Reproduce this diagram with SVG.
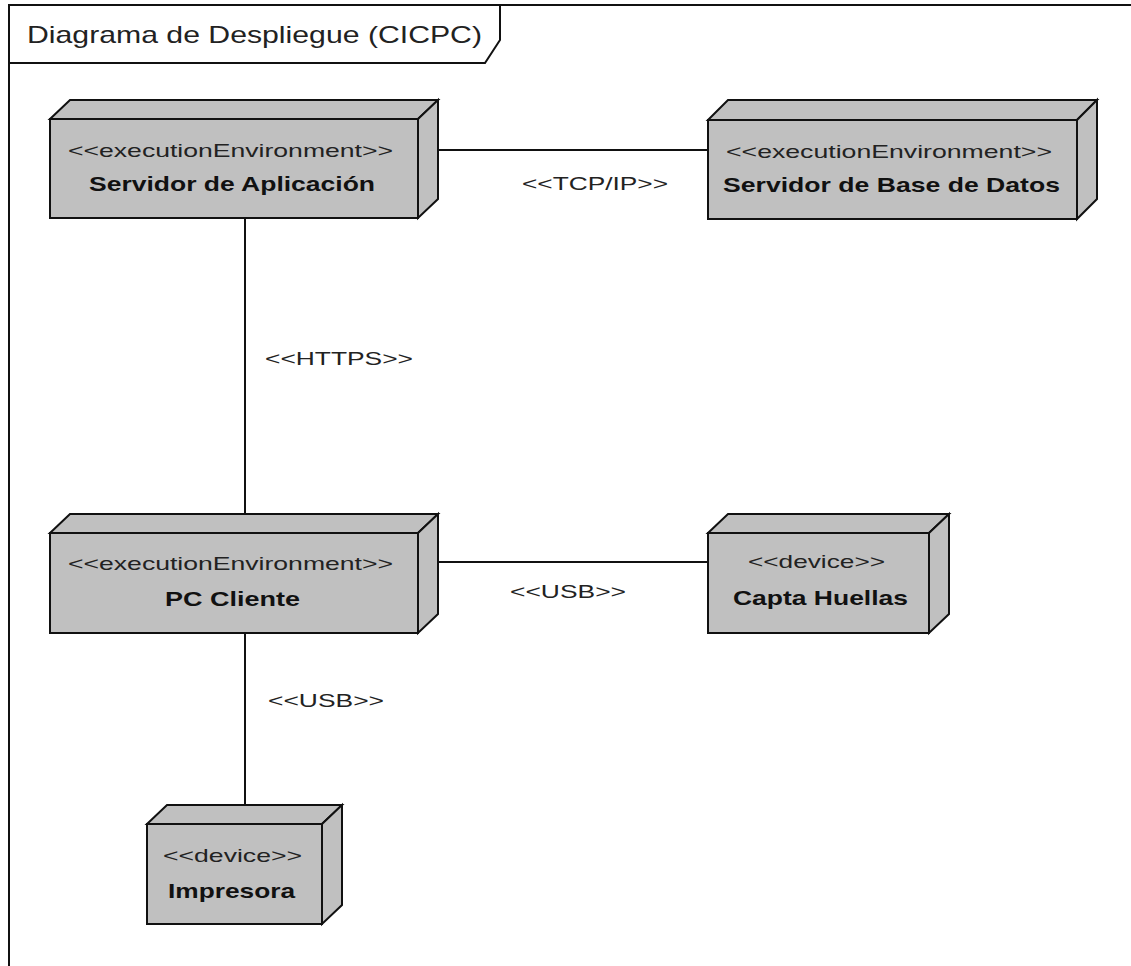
<svg xmlns="http://www.w3.org/2000/svg" width="1131" height="966" viewBox="0 0 1131 966">
  <style>
    .face { fill: #c0c0c0; stroke: #111; stroke-width: 2; stroke-linejoin: miter; }
    .stereo { font-family: "Liberation Sans", Arial, sans-serif; font-size: 19px; fill: #222; }
    .name { font-family: "Liberation Sans", Arial, sans-serif; font-size: 21px; font-weight: bold; fill: #111; }
    .lbl { font-family: "Liberation Sans", Arial, sans-serif; font-size: 19px; fill: #222; }
    .conn { stroke: #111; stroke-width: 2; fill: none; }
    .frame { stroke: #111; stroke-width: 2; fill: none; }
  </style>
  <rect width="1131" height="966" fill="#ffffff"/>

  <!-- diagram frame with title tab -->
  <g id="frame">
    <path class="frame" d="M9,966 L9,5 L1131,5"/>
    <path class="frame" d="M9,63 L485,63 L500,40 L500,5"/>
    <text x="27" y="43" font-family="Liberation Sans, Arial, sans-serif" font-size="24" fill="#222" textLength="455" lengthAdjust="spacingAndGlyphs">Diagrama de Despliegue (CICPC)</text>
  </g>

  <!-- communication paths -->
  <g id="connectors">
    <line class="conn" x1="438" y1="150" x2="708" y2="150"/>
    <line class="conn" x1="245" y1="218" x2="245" y2="514"/>
    <line class="conn" x1="438" y1="562" x2="708" y2="562"/>
    <line class="conn" x1="245" y1="633" x2="245" y2="805"/>
    <text class="lbl" x="522" y="190" textLength="146" lengthAdjust="spacingAndGlyphs">&lt;&lt;TCP/IP&gt;&gt;</text>
    <text class="lbl" x="265" y="365" textLength="148" lengthAdjust="spacingAndGlyphs">&lt;&lt;HTTPS&gt;&gt;</text>
    <text class="lbl" x="510" y="598" textLength="116" lengthAdjust="spacingAndGlyphs">&lt;&lt;USB&gt;&gt;</text>
    <text class="lbl" x="268" y="707" textLength="116" lengthAdjust="spacingAndGlyphs">&lt;&lt;USB&gt;&gt;</text>
  </g>

  <!-- nodes: top face, side face, front face -->
  <g id="servidor-aplicacion">
    <polygon class="face" points="50,119 70,100 438,100 418,119"/>
    <polygon class="face" points="418,119 438,100 438,199 418,218"/>
    <rect class="face" x="50" y="119" width="368" height="99"/>
    <text class="stereo" x="68" y="157" textLength="325" lengthAdjust="spacingAndGlyphs">&lt;&lt;executionEnvironment&gt;&gt;</text>
    <text class="name" x="89" y="191" textLength="286" lengthAdjust="spacingAndGlyphs">Servidor de Aplicación</text>
  </g>

  <g id="servidor-base-datos">
    <polygon class="face" points="708,120 728,100 1097,100 1077,120"/>
    <polygon class="face" points="1077,120 1097,100 1097,199 1077,219"/>
    <rect class="face" x="708" y="120" width="369" height="99"/>
    <text class="stereo" x="726" y="158" textLength="326" lengthAdjust="spacingAndGlyphs">&lt;&lt;executionEnvironment&gt;&gt;</text>
    <text class="name" x="723" y="192" textLength="337" lengthAdjust="spacingAndGlyphs">Servidor de Base de Datos</text>
  </g>

  <g id="pc-cliente">
    <polygon class="face" points="50,533 70,514 438,514 418,533"/>
    <polygon class="face" points="418,533 438,514 438,614 418,633"/>
    <rect class="face" x="50" y="533" width="368" height="100"/>
    <text class="stereo" x="68" y="570" textLength="325" lengthAdjust="spacingAndGlyphs">&lt;&lt;executionEnvironment&gt;&gt;</text>
    <text class="name" x="165" y="606" textLength="135" lengthAdjust="spacingAndGlyphs">PC Cliente</text>
  </g>

  <g id="capta-huellas">
    <polygon class="face" points="708,533 728,514 949,514 929,533"/>
    <polygon class="face" points="929,533 949,514 949,614 929,633"/>
    <rect class="face" x="708" y="533" width="221" height="100"/>
    <text class="stereo" x="748" y="568" textLength="137" lengthAdjust="spacingAndGlyphs">&lt;&lt;device&gt;&gt;</text>
    <text class="name" x="733" y="605" textLength="175" lengthAdjust="spacingAndGlyphs">Capta Huellas</text>
  </g>

  <g id="impresora">
    <polygon class="face" points="147,824 167,805 342,805 322,824"/>
    <polygon class="face" points="322,824 342,805 342,905 322,924"/>
    <rect class="face" x="147" y="824" width="175" height="100"/>
    <text class="stereo" x="163" y="862" textLength="139" lengthAdjust="spacingAndGlyphs">&lt;&lt;device&gt;&gt;</text>
    <text class="name" x="168" y="898" textLength="127" lengthAdjust="spacingAndGlyphs">Impresora</text>
  </g>
</svg>
